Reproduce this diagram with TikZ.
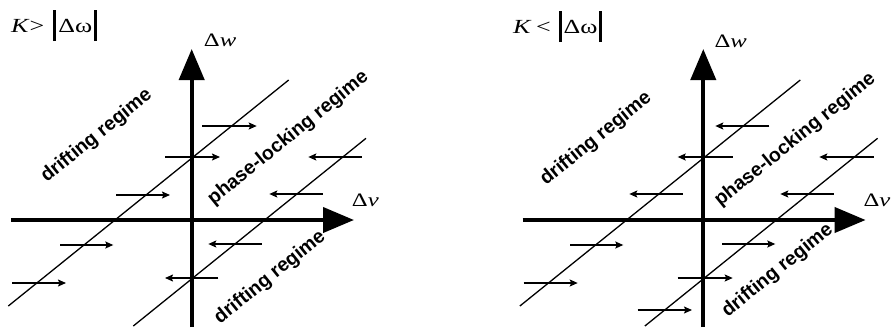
\documentclass[tikz,border=0pt]{standalone}
\usepackage{fontspec}
\setmainfont{Liberation Serif}
\newfontfamily\labelfont{Liberation Sans}
\usetikzlibrary{arrows.meta}
\tikzset{
  axis/.style={line width=4pt, -{Triangle[length=31pt,width=25pt]}},
  diag/.style={line width=1.3pt},
  flow/.style={line width=1.4pt, -{Stealth[length=8pt,width=7pt,inset=1.5pt]}},
  regime/.style={font=\labelfont\bfseries\fontsize{19.5}{20}\selectfont, rotate=39, inner sep=0pt, anchor=center},
  axlabel/.style={font=\fontsize{19}{20}\selectfont, inner sep=0pt, anchor=base west},
  titlelabel/.style={font=\fontsize{20}{24}\selectfont, inner sep=0pt, anchor=base west},
}
\newcommand{\mybar}{\rule[-9pt]{2.3pt}{31pt}}
\newcommand{\wide}[1]{\scalebox{1.3}[1]{#1}}
\begin{document}
\begin{tikzpicture}[x=1pt,y=-1pt]
\useasboundingbox (0,0) rectangle (892,327);
% ---------------- left panel ----------------
\node[titlelabel] (Ltitle) at (11,32) {\wide{\textit{K}>\hspace{7pt}\mybar\hspace{1.5pt}Δω\hspace{1.5pt}\mybar}};
\begin{scope}[shift={(191.7,220)}]
  \coordinate (Lyb) at (0,107);
  \coordinate (Lyt) at (0,-171);
  \coordinate (Lxl) at (-180.7,0);
  \coordinate (Lxr) at (162.3,0);
  \draw[axis] (Lyb) -- (Lyt);
  \draw[axis] (Lxl) -- (Lxr);
  \coordinate (Ld1a) at (-183.4,86);
  \coordinate (Ld1b) at (97,-140);
  \coordinate (Ld2a) at (-58.4,106);
  \coordinate (Ld2b) at (174.3,-81.7);
  \draw[diag] (Ld1a) -- (Ld1b);
  \draw[diag] (Ld2a) -- (Ld2b);
  \foreach \n/\yy/\xa/\xb in {1/-94/10.3/65, 2/-63/-26.7/28.3, 3/-25/-75.7/-21.7,
      4/25/-131.7/-78.4, 5/63/-179.7/-125.7, 6/-63/170/116.6, 7/-26/131/77.6,
      8/24/70/16.6, 9/58/26.6/-26.7}{
    \coordinate (La\n s) at (\xa,\yy);
    \coordinate (La\n e) at (\xb,\yy);
    \draw[flow] (La\n s) -- (La\n e);
  }
  \node[axlabel] (Lw) at (12,-174) {\wide{Δ\textit{w}}};
  \node[axlabel] (Lv) at (160,-14) {\wide{Δ\textit{v}}};
  \node[regime] (Lr1) at (-95,-84) {drifting regime};
  \node[regime] (Lr2) at (96.6,-81.7) {phase-locking regime};
  \node[regime] (Lr3) at (78.3,57.5) {drifting regime};
\end{scope}
% ---------------- right panel ----------------
\node[titlelabel] (Rtitle) at (513,33) {\wide{\textit{K}\hspace{3.5pt}<\hspace{6pt}\mybar\hspace{1.5pt}Δω\hspace{1.5pt}\mybar}};
\begin{scope}[shift={(703.3,220)}]
  \coordinate (Ryb) at (0,107);
  \coordinate (Ryt) at (0,-171);
  \coordinate (Rxl) at (-180.7,0);
  \coordinate (Rxr) at (162.3,0);
  \draw[axis] (Ryb) -- (Ryt);
  \draw[axis] (Rxl) -- (Rxr);
  \coordinate (Rd1a) at (-183.4,86);
  \coordinate (Rd1b) at (97,-140);
  \coordinate (Rd2a) at (-58.4,106);
  \coordinate (Rd2b) at (174.3,-81.7);
  \draw[diag] (Rd1a) -- (Rd1b);
  \draw[diag] (Rd2a) -- (Rd2b);
  \foreach \n/\yy/\xa/\xb in {1/-94/66/12, 2/-63/29.4/-25.6, 3/-26/-20.6/-74,
      4/25/-133.3/-80, 5/63/-179.6/-125.6, 6/-63/170.4/116, 7/-26/130.4/77,
      8/24/18.7/72, 9/58/-25.6/29.4, 10/90/-65.6/-11.3}{
    \coordinate (Ra\n s) at (\xa,\yy);
    \coordinate (Ra\n e) at (\xb,\yy);
    \draw[flow] (Ra\n s) -- (Ra\n e);
  }
  \node[axlabel] (Rw) at (11,-173) {\wide{Δ\textit{w}}};
  \node[axlabel] (Rv) at (160,-13.5) {\wide{Δ\textit{v}}};
  \node[regime] (Rr1) at (-107.3,-81) {drifting regime};
  \node[regime] (Rr2) at (91.9,-80) {phase-locking regime};
  \node[regime] (Rr3) at (74.4,50.7) {drifting regime};
\end{scope}
\end{tikzpicture}
\end{document}
